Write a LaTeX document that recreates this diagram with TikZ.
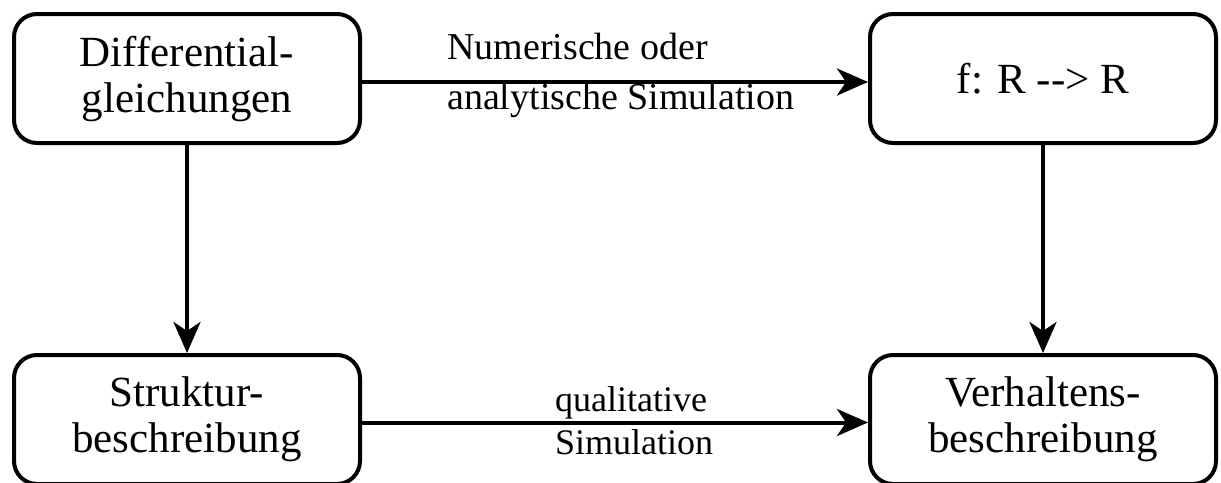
\documentclass[tikz,border=0pt]{standalone}
\usepackage{fontspec}
\setmainfont{Liberation Serif}
\usetikzlibrary{arrows.meta}
\begin{document}
\begin{tikzpicture}[x=1pt,y=-1pt,
 box/.style={draw, line width=4pt, rounded corners=23pt, inner sep=0pt, align=center,
   minimum width=346pt, minimum height=129pt, font=\fontsize{43}{46}\selectfont},
 conn/.style={line width=4pt, -{Stealth[length=31pt,width=27pt,inset=9pt]}},
 lbl/.style={inner sep=0pt, align=left}]
\useasboundingbox (0,0) rectangle (1221,482);
\node[box] (tl) at (187,78.5) {Differential-\\gleichungen};
\node[box] (tr) at (1043,78.5) {f: R \mbox{-}\mbox{-}> R};
\node[box] (bl) at (187,419.5) {Struktur-\\beschreibung};
\node[box] (br) at (1043,419.5) {Verhaltens-\\beschreibung};
\draw[conn] ([yshift=-3.5pt]tl.east) -- ([yshift=-3.5pt]tr.west);
\draw[conn] (tl.south) -- (bl.north);
\draw[conn] (tr.south) -- (br.north);
\draw[conn] ([yshift=-3pt]bl.east) -- ([yshift=-3pt]br.west);
\node[lbl, anchor=west, font=\fontsize{38}{50}\selectfont] (l1) at (447,75) {Numerische oder\\analytische Simulation};
\node[lbl, anchor=west, font=\fontsize{36}{43}\selectfont] (l2) at (555,421) {qualitative\\Simulation};
\end{tikzpicture}
\end{document}
